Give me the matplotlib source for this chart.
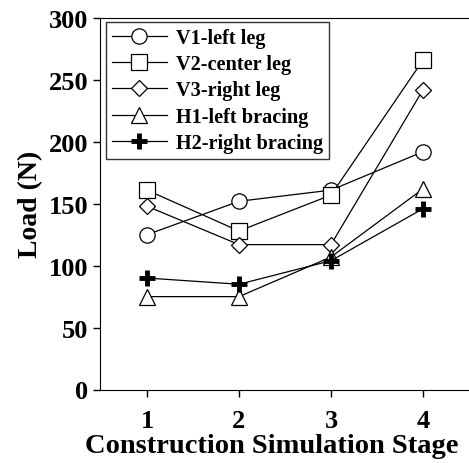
import matplotlib
matplotlib.use("Agg")
import matplotlib.pyplot as plt

stages = [1, 2, 3, 4]
v1_left_leg = [125, 152, 161, 192]
v2_center_leg = [161, 128, 157, 266]
v3_right_leg = [148, 117, 117, 242]
h1_left_bracing = [75, 75, 107, 162]
h2_right_bracing = [90, 85, 104, 146]

plt.rcParams["font.family"] = ["Liberation Serif", "DejaVu Serif"]
plt.rcParams["font.weight"] = "bold"

fig = plt.figure(figsize=(4.69, 4.64), dpi=100)
# the right spine sits just past the image edge, as in the original
ax = fig.add_axes([100 / 469, 1 - 390.5 / 464, 372 / 469, (390.5 - 19) / 464])

style = dict(color="black", lw=0.9, markerfacecolor="white",
             markeredgecolor="black", markeredgewidth=0.9, markersize=11)
ax.plot(stages, v1_left_leg, marker="o", label="V1-left leg", **style)
ax.plot(stages, v2_center_leg, marker="s", label="V2-center leg", **style)
ax.plot(stages, v3_right_leg, marker="D", label="V3-right leg",
        **{**style, "markersize": 8})
ax.plot(stages, h1_left_bracing, marker="^", label="H1-left bracing", **style)
ax.plot(stages, h2_right_bracing, marker="+", label="H2-right bracing",
        **{**style, "markersize": 12, "markeredgewidth": 3.5})

ax.set_xlim(0.489, 4.533)
ax.set_ylim(0, 300)
ax.set_xticks(stages)
ax.set_yticks(range(0, 301, 50))
ax.tick_params(direction="out", length=5, width=1, labelsize=19)
ax.tick_params(axis="x", pad=9)
for lbl in ax.get_xticklabels() + ax.get_yticklabels():
    lbl.set_fontweight("bold")
ax.set_xlabel("Construction Simulation Stage", fontsize=20.5, fontweight="bold")
ax.xaxis.set_label_coords(0.461, -0.118)
ax.set_ylabel("Load (N)", fontsize=20, fontweight="bold", labelpad=4)

leg = ax.legend(loc="upper left", bbox_to_anchor=(0.016, 0.99), fontsize=14.6,
                frameon=True, fancybox=False, edgecolor="black",
                handlelength=2.7, handletextpad=0.45, labelspacing=0.31,
                borderaxespad=0, borderpad=0.3)
leg.get_frame().set_linewidth(1)
for t in leg.get_texts():
    t.set_fontweight("bold")

fig.savefig("out.png", dpi=100)
